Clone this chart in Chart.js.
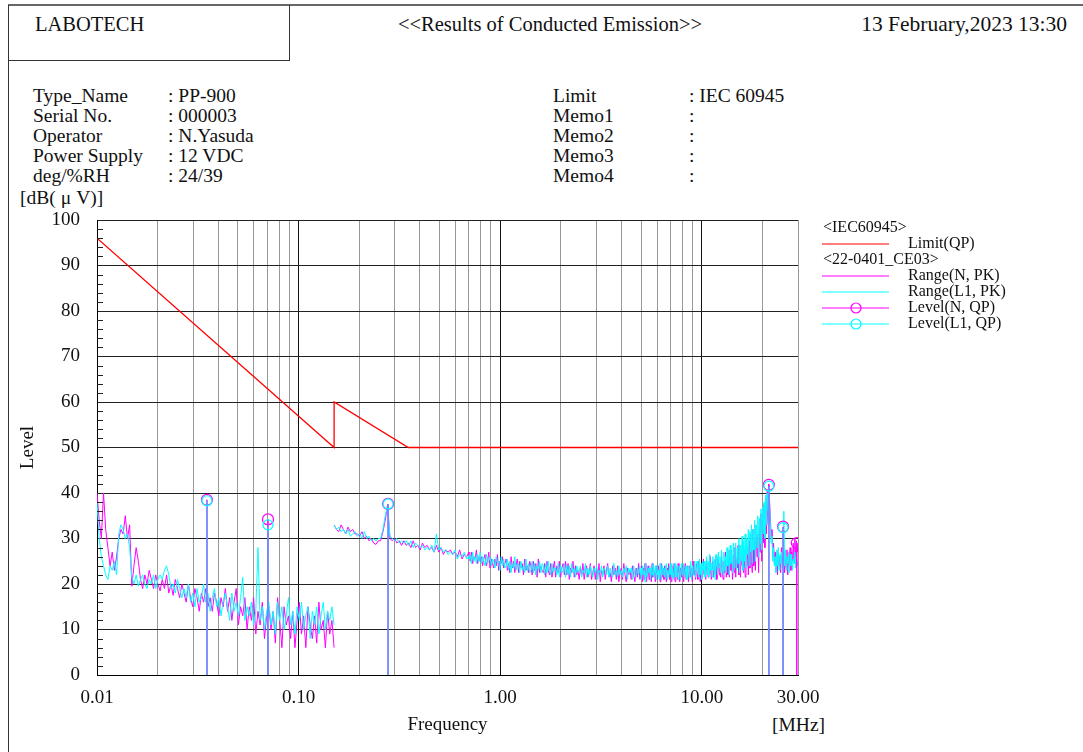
<!DOCTYPE html>
<html>
<head>
<meta charset="utf-8">
<script src="https://cdn.jsdelivr.net/npm/chart.js@4.4.1/dist/chart.umd.min.js"></script>
<style>
  body { margin: 0; background: #fff; }
  #page { position: relative; width: 1083px; height: 752px; overflow: hidden;
          font-family: "Liberation Serif", "DejaVu Serif", serif; color: #111; }
  .t { position: absolute; font-size: 19.5px; line-height: 20px; white-space: pre; }
  .h { font-size: 20.5px; }
  #frameTop { position: absolute; left: 8px; top: 4px; width: 1075px; border-top: 2px solid #666; }
  #frameLeft { position: absolute; left: 8px; top: 5px; height: 747px; border-left: 1px solid #333; }
  #logoBox { position: absolute; left: 8px; top: 5px; width: 281px; height: 55px;
             border-right: 1px solid #333; border-bottom: 1px solid #333; }
  canvas { position: absolute; left: 0; top: 0; }
</style>
</head>
<body>
<div id="page">
  <div id="frameTop"></div>
  <div id="frameLeft"></div>
  <div id="logoBox"></div>
  <div class="t h" style="left:35px;top:14px">LABOTECH</div>
  <div class="t h" style="left:550px;top:14px;transform:translateX(-50%)">&lt;&lt;Results of Conducted Emission&gt;&gt;</div>
  <div class="t h" style="right:16px;top:14px;font-size:21.5px">13 February,2023 13:30</div>

  <div class="t" style="left:33px;top:86px">Type_Name</div>
  <div class="t" style="left:33px;top:106px">Serial No.</div>
  <div class="t" style="left:33px;top:126px">Operator</div>
  <div class="t" style="left:33px;top:146px">Power Supply</div>
  <div class="t" style="left:33px;top:166px">deg/%RH</div>
  <div class="t" style="left:168px;top:86px">: PP-900</div>
  <div class="t" style="left:168px;top:106px">: 000003</div>
  <div class="t" style="left:168px;top:126px">: N.Yasuda</div>
  <div class="t" style="left:168px;top:146px">: 12 VDC</div>
  <div class="t" style="left:168px;top:166px">: 24/39</div>

  <div class="t" style="left:553px;top:86px">Limit</div>
  <div class="t" style="left:553px;top:106px">Memo1</div>
  <div class="t" style="left:553px;top:126px">Memo2</div>
  <div class="t" style="left:553px;top:146px">Memo3</div>
  <div class="t" style="left:553px;top:166px">Memo4</div>
  <div class="t" style="left:689px;top:86px">: IEC 60945</div>
  <div class="t" style="left:689px;top:106px">:</div>
  <div class="t" style="left:689px;top:126px">:</div>
  <div class="t" style="left:689px;top:146px">:</div>
  <div class="t" style="left:689px;top:166px">:</div>

  <div class="t" style="left:20px;top:188px">[dB(<span style="margin:0 5px">μ</span>V)]</div>
  <div class="t" style="left:772px;top:715px">[MHz]</div>

  <canvas id="chart" width="1083" height="752"></canvas>
</div>

<script>
// Limit line (IEC 60945, QP)
const limitFreq = [0.01, 0.15, 0.15, 0.35, 30];
const limitLevel = [96, 50, 60, 50, 50];

// Peak sweep bands (MHz)
const band1 = [0.01, 0.15];
const band2a = [0.15, 0.7];
const band2b = [0.7, 5];
const band2c = [5, 30];

// Range(N, PK), 0.01 - 0.15 MHz
const band1N = [
  40, 34, 30, 40, 32, 28, 24, 27, 23, 26,
  30, 32, 31, 35, 30, 33, 19.5, 24, 28, 25,
  21, 19, 22, 20, 23, 21, 19, 22, 20, 18.5,
  21, 19, 22, 18, 20, 17.5, 21, 19, 17, 20,
  18, 16, 20, 17, 15, 19, 17, 14, 18, 16,
  19, 15, 17, 14, 18, 16, 13, 17, 15, 19,
  14, 17, 12, 16, 19, 11, 15, 13, 17, 10,
  15, 12, 17, 9, 14, 11, 16, 8, 13, 15,
  10, 14, 7, 17, 12, 6, 15, 11, 13, 8,
  14, 6, 12, 16, 9, 13, 6, 15, 11, 8,
  13, 7, 16, 10, 12, 6, 14, 9, 12, 6
];
// Range(L1, PK), 0.01 - 0.15 MHz
const band1L1 = [
  38, 30, 26, 24, 22, 21, 24, 23, 25, 22,
  31, 33, 32, 30, 31, 28, 21.5, 20, 22, 19.5,
  21, 22, 20, 19, 21, 20, 22, 19, 21, 22,
  21, 23, 24, 22, 19, 20, 18, 21, 19, 17,
  19, 17, 20, 16, 18, 15, 19, 16, 17, 20,
  16, 18, 14, 17, 19, 15, 17, 13, 16, 18,
  15, 12, 18, 14, 16, 13, 17, 21.5, 12, 15,
  13, 16, 11, 14, 28, 12, 15, 10, 14, 16,
  11, 14, 9, 16, 12, 15, 10, 13, 17, 11,
  14, 9, 15, 12, 16, 10, 13, 15, 8, 14,
  11, 15, 9, 13, 16, 10, 14, 12, 15, 11
];
// Range(N, PK), 0.15 - 0.7 MHz
const band2aN = [
  33, 32, 31.5, 33, 32, 31, 32.5, 31.5, 32, 31,
  31, 30.5, 31.5, 30, 30.5, 29.5, 30, 29, 28.7, 29.5,
  29.5, 31.5, 34, 37.5, 30, 29.5, 30, 29, 29.5, 28.5,
  29.5, 28.5, 29, 28, 29.5, 28, 28.5, 27.5, 29, 28,
  28.5, 27.5, 28, 27, 28.5, 27, 28, 26.5, 27.5, 27,
  27.5, 26.5, 27, 26, 27.5, 25.5, 26.5, 26, 27
];
// Range(L1, PK), 0.15 - 0.7 MHz
const band2aL1 = [
  33, 32, 32.5, 31.5, 32, 31, 32, 30.5, 31, 31.5,
  30.5, 31, 30, 31.5, 30, 30.5, 29.5, 30, 29.5, 30,
  30, 32, 35, 37, 30.5, 30, 29.5, 30, 29, 29.5,
  29, 29.5, 28.5, 29.5, 28, 29, 28.5, 28, 28.5, 27.5,
  28, 27.5, 28.5, 27, 31, 27.5, 28, 27, 27.5, 26.5,
  27, 26.5, 27.5, 25.5, 26.5, 26, 27, 25.5, 26
];
// Range(N, PK), 0.7 - 5 MHz
const band2bN = [
  26.5, 25, 27, 24.5, 26, 25.5, 27.5, 24.5, 26, 25,
  26, 24, 25.5, 26.5, 24, 25, 27, 23.5, 25.5, 24.5,
  23.5, 25.5, 24, 26.5, 23, 25, 24.5, 26, 23.5, 24.5,
  25.5, 23, 24.5, 22.5, 26, 23.5, 25, 22.5, 24, 25.5,
  22.5, 25, 23.5, 24.5, 22, 25.5, 23, 24, 22.5, 25,
  24, 22, 25, 23, 24.5, 21.5, 25.5, 22.5, 24, 23,
  22.5, 24.5, 21.5, 25, 23, 22, 24.5, 21.5, 23.5, 25,
  21.5, 24, 22.5, 25, 21.5, 23.5, 24.5, 22, 25, 22,
  24.5, 21, 23.5, 22.5, 25, 21.5, 24, 22, 23, 21,
  23.5, 22, 24.5, 21, 23, 24, 21.5, 22.5, 24.5, 21,
  22.5, 24, 21, 23.5, 22, 24.5, 20.5, 23, 22, 24,
  21, 23, 24.5, 21.5, 22.5, 20.5, 24, 22, 23.5, 21,
  24, 20.5, 22.5, 23.5, 21, 24.5, 22, 20.5, 23.5, 22,
  23, 21, 24, 22, 20.5, 23.5, 21.5, 24.5, 21, 22.5
];
// Range(L1, PK), 0.7 - 5 MHz
const band2bL1 = [
  25.5, 26.5, 24.5, 27, 25, 26, 24.5, 26.5, 25, 27,
  24.5, 26, 25, 24, 26.5, 24.5, 25, 26, 24, 25.5,
  25, 23.5, 26, 24.5, 25, 23, 26, 24, 25.5, 23.5,
  24, 25.5, 23, 25, 22.5, 24.5, 23.5, 26, 23, 24.5,
  24.5, 22.5, 25, 23, 24, 22.5, 25.5, 23, 24.5, 22.5,
  23, 25, 22.5, 24.5, 22, 24, 23, 25, 22.5, 24.5,
  24, 22, 24.5, 22.5, 25, 23, 22, 24.5, 22.5, 23.5,
  23.5, 22, 24.5, 21.5, 24, 22.5, 23, 24.5, 21.5, 24,
  22, 24, 21.5, 24.5, 22.5, 23.5, 21.5, 24, 22.5, 23,
  24, 21.5, 23, 22.5, 24.5, 21.5, 23.5, 22, 24, 22.5,
  21.5, 23.5, 22.5, 24, 21, 23, 22.5, 24, 21.5, 23.5,
  23, 22, 24, 21.5, 23.5, 22, 21.5, 24.5, 22, 23,
  21.5, 24, 22, 23, 21.5, 23.5, 22.5, 24, 21, 23.5,
  22.5, 23.5, 21, 24, 22, 21.5, 23.5, 22, 24, 21.5
];
// Range(N, PK), 5 - 30 MHz
const band2cN = [
  22, 24, 20.5, 23.5, 21, 24.5, 22.5, 20.5, 23, 24,
  21, 23.5, 22, 20.5, 24.5, 21.5, 23, 22.5, 20.5, 24,
  22.5, 21, 24, 23, 20.5, 22, 24.5, 21.5, 23.5, 21,
  24, 22, 20.5, 23.5, 22.5, 24.5, 21, 23, 20.5, 24,
  21.5, 23, 24.5, 20.5, 22, 23.5, 21, 24.5, 22.5, 20.5,
  23.5, 21.5, 24, 22, 20.5, 23, 24.5, 21, 22.5, 24,
  20.5, 22.5, 24, 21.5, 23.5, 20.5, 25, 22, 23, 21,
  24.5, 22, 21, 25, 22.5, 20.5, 24, 23, 21.5, 25.5,
  22, 24, 21, 25.5, 23, 21.5, 24.5, 22, 26, 21,
  23.5, 25, 21.5, 24, 22.5, 26, 21, 23.5, 25.5, 22,
  24.5, 21.5, 26.5, 23, 21, 25, 22.5, 27, 21.5, 24,
  22, 26, 21.5, 27.5, 23, 25, 21, 26.5, 22.5, 28,
  21.5, 25.5, 23.5, 28.5, 22, 26, 21.5, 27, 24, 29,
  22.5, 27.5, 21.5, 30, 24, 28, 22, 29.5, 23.5, 31,
  25, 22.5, 32, 24, 30, 23, 33, 26, 31, 22.5,
  34, 27, 35.5, 25, 36, 29, 37.5, 28, 39, 31,
  40.5, 33, 42, 38, 34, 30, 32, 26, 29, 24.5,
  27, 23, 26.5, 22, 27.5, 24, 26, 22.5, 28, 25,
  24, 27, 22.5, 26, 23.5, 27.5, 22, 26.5, 24, 28,
  23, 27, 25, 29, 24.5, 30, 26, 29.5, 27, 29
];
// Range(L1, PK), 5 - 30 MHz
const band2cL1 = [
  23.5, 21, 24, 22, 23, 20.5, 24.5, 22.5, 21.5, 23.5,
  22.5, 24, 21, 23.5, 22, 24.5, 21.5, 23, 24, 21,
  24, 22, 23, 21, 24.5, 22.5, 21, 24, 22, 23.5,
  21.5, 23.5, 24.5, 21, 23, 21.5, 24, 22, 24.5, 21.5,
  23.5, 21, 22.5, 24.5, 21.5, 24, 22.5, 21, 24, 23,
  21, 24.5, 22, 23.5, 24.5, 21.5, 22.5, 24, 21, 23.5,
  24, 21.5, 22.5, 25, 21, 24, 22, 23.5, 25, 21.5,
  22.5, 25, 23.5, 21.5, 25.5, 22, 24.5, 21, 25, 23,
  25, 21.5, 23.5, 26, 22, 25, 21.5, 26.5, 23, 24.5,
  21.5, 26, 23, 25.5, 21, 26.5, 24, 22, 27, 23.5,
  26, 22.5, 27.5, 24, 22, 27, 23, 26, 22.5, 28,
  24, 27.5, 22, 28.5, 24.5, 26.5, 22.5, 29, 23.5, 27.5,
  29, 23, 28, 24.5, 30, 22.5, 28.5, 25, 30.5, 23,
  29.5, 25, 31, 23.5, 30, 26.5, 32, 24, 31.5, 27,
  33, 24.5, 32, 27.5, 34, 25, 33, 28, 35, 26,
  34.5, 29, 36.5, 27.5, 37, 31, 38, 30, 39.5, 33,
  40, 36, 41, 37, 32, 29, 30.5, 25, 28, 24,
  26, 22.5, 27.5, 24, 28, 23, 26.5, 24.5, 27, 23.5,
  25, 36, 24, 27.5, 23, 26, 24.5, 27, 22.5, 26.5,
  24, 26.5, 23, 25.5, 24.5, 27, 23.5, 26, 24, 25
];

// Quasi-peak spot measurements
const qpFreq = [0.0351, 0.0705, 0.278, 21.5, 25.3, 29.6];
const qpN = [38.5, 34.2, 37.6, 41.8, 32.6, 29.0];
const qpL1 = [38.3, 33.0, 37.6, 41.5, 32.4, null];

// Axis labels
const xTickValues = [0.01, 0.1, 1, 10, 30];
const xTickLabels = ["0.01", "0.10", "1.00", "10.00", "30.00"];

const MAGENTA = "#ff00ff";
const CYAN = "#00ffff";
const RED = "#ff0000";
const FONT = '"Liberation Serif", "DejaVu Serif", serif';

// log spaced sweep points for a band
function sweepFreqs(band, n) {
  const a = Math.log10(band[0]), b = Math.log10(band[1]);
  const out = [];
  for (let i = 0; i < n; i++) out.push(Math.pow(10, a + (b - a) * i / (n - 1)));
  return out;
}

function traceData(v1, v2a, v2b, v2c) {
  const pts = [];
  const add = (band, vals) => sweepFreqs(band, vals.length).forEach((f, i) => pts.push({ x: f, y: vals[i] }));
  add(band1, v1);
  pts.push({ x: band2a[0], y: null }); // gap between the two sweeps
  add(band2a, v2a);
  add(band2b, v2b);
  add(band2c, v2c);
  return pts;
}

function stickData(levels) {
  const pts = [];
  qpFreq.forEach((f, i) => {
    if (levels[i] == null) return;
    pts.push({ x: f, y: 0 }, { x: f, y: levels[i] }, { x: f, y: null });
  });
  return pts;
}

// grid lines at 1..9 x every decade, up to 30 MHz
const gridTicks = [];
[0.01, 0.1, 1, 10].forEach(d => {
  for (let m = 1; m <= 9; m++) {
    const v = +(d * m).toPrecision(6);
    if (v <= 30) gridTicks.push(v);
  }
});

const isDecade = v => Math.abs(Math.log10(v) - Math.round(Math.log10(v))) < 1e-9;

// groups for the side legend (dataset indexes)
const legendGroups = [
  { title: "<IEC60945>", items: [0] },
  { title: "<22-0401_CE03>", items: [1, 2, 3, 4] }
];

const sideLegend = {
  id: "sideLegend",
  afterDraw(chart) {
    const c = chart.ctx;
    c.save();
    c.font = "16px " + FONT;
    c.textBaseline = "middle";
    let y = 228;
    legendGroups.forEach(g => {
      c.fillStyle = "#111";
      c.fillText(g.title, 823, y);
      y += 16;
      g.items.forEach(idx => {
        const ds = chart.data.datasets[idx];
        c.strokeStyle = ds.legendColor;
        c.lineWidth = 1.2;
        c.beginPath(); c.moveTo(822, y); c.lineTo(889, y); c.stroke();
        if (ds.isLevel) {
          c.beginPath(); c.arc(856, y, 5, 0, Math.PI * 2); c.stroke();
        }
        c.fillStyle = "#111";
        c.fillText(ds.label, 908, y);
        y += 16;
      });
    });
    c.restore();
  }
};

// small inside ticks every 2 dB on the left axis
const minorTicks = {
  id: "minorTicks",
  afterDatasetsDraw(chart) {
    const y = chart.scales.y, a = chart.chartArea, c = chart.ctx;
    c.save();
    c.strokeStyle = "#222";
    c.lineWidth = 1;
    for (let v = 2; v < 100; v += 2) {
      if (v % 10 === 0) continue;
      const py = Math.round(y.getPixelForValue(v)) + 0.5;
      c.beginPath(); c.moveTo(a.left, py); c.lineTo(a.left + 6, py); c.stroke();
    }
    c.restore();
  }
};

new Chart(document.getElementById("chart"), {
  type: "line",
  data: {
    datasets: [
      {
        label: "Limit(QP)", legendColor: RED,
        data: limitFreq.map((f, i) => ({ x: f, y: limitLevel[i] })),
        borderColor: RED, borderWidth: 1.3, order: 0
      },
      {
        label: "Range(N, PK)", legendColor: MAGENTA,
        data: traceData(band1N, band2aN, band2bN, band2cN),
        borderColor: MAGENTA, borderWidth: 1, order: 4
      },
      {
        label: "Range(L1, PK)", legendColor: CYAN,
        data: traceData(band1L1, band2aL1, band2bL1, band2cL1),
        borderColor: CYAN, borderWidth: 1, order: 3
      },
      {
        label: "Level(N, QP)", legendColor: MAGENTA, isLevel: true,
        data: stickData(qpN),
        borderColor: MAGENTA, borderWidth: 1.5, order: 2,
        pointRadius: ctx => (ctx.raw && ctx.raw.y > 0 ? 5.5 : 0),
        pointBorderColor: MAGENTA, pointBackgroundColor: "rgba(0,0,0,0)", pointBorderWidth: 1.2
      },
      {
        label: "Level(L1, QP)", legendColor: CYAN, isLevel: true,
        data: stickData(qpL1),
        borderColor: "rgba(70,180,255,0.9)", borderWidth: 1.5, order: 1,
        pointRadius: ctx => (ctx.raw && ctx.raw.y > 0 ? 5 : 0),
        pointBorderColor: CYAN, pointBackgroundColor: "rgba(0,0,0,0)", pointBorderWidth: 1.2
      }
    ]
  },
  options: {
    responsive: false,
    animation: false,
    devicePixelRatio: 1,
    layout: { padding: { left: 17, top: 220, right: 285, bottom: 15 } },
    plugins: { legend: { display: false }, tooltip: { enabled: false } },
    elements: { point: { radius: 0 }, line: { tension: 0 } },
    scales: {
      x: {
        type: "logarithmic", min: 0.01, max: 30,
        afterBuildTicks: axis => { axis.ticks = gridTicks.map(v => ({ value: v })); },
        afterFit: s => { s.height = 62; },
        ticks: {
          autoSkip: false, maxRotation: 0, padding: 12,
          font: { family: FONT, size: 19 }, color: "#111",
          callback: v => {
            const i = xTickValues.findIndex(t => Math.abs(t - v) < 1e-9);
            return i >= 0 ? xTickLabels[i] : "";
          }
        },
        grid: {
          drawTicks: false,
          color: c => (isDecade(c.tick.value) ? "#111" : "#999"),
          lineWidth: 1
        },
        border: { color: "#000", width: 1 },
        title: { display: true, text: "Frequency", font: { family: FONT, size: 19 }, color: "#111", padding: { top: 0, bottom: 1 } }
      },
      y: {
        min: 0, max: 100,
        afterFit: s => { s.width = 80; },
        ticks: { stepSize: 10, padding: 17, font: { family: FONT, size: 19 }, color: "#111" },
        grid: { drawTicks: false, color: "#222", lineWidth: 1 },
        border: { color: "#000", width: 1 },
        title: { display: true, text: "Level", font: { family: FONT, size: 19 }, color: "#111", padding: { top: 0, bottom: 0 } }
      }
    }
  },
  plugins: [minorTicks, sideLegend]
});
</script>
</body>
</html>
